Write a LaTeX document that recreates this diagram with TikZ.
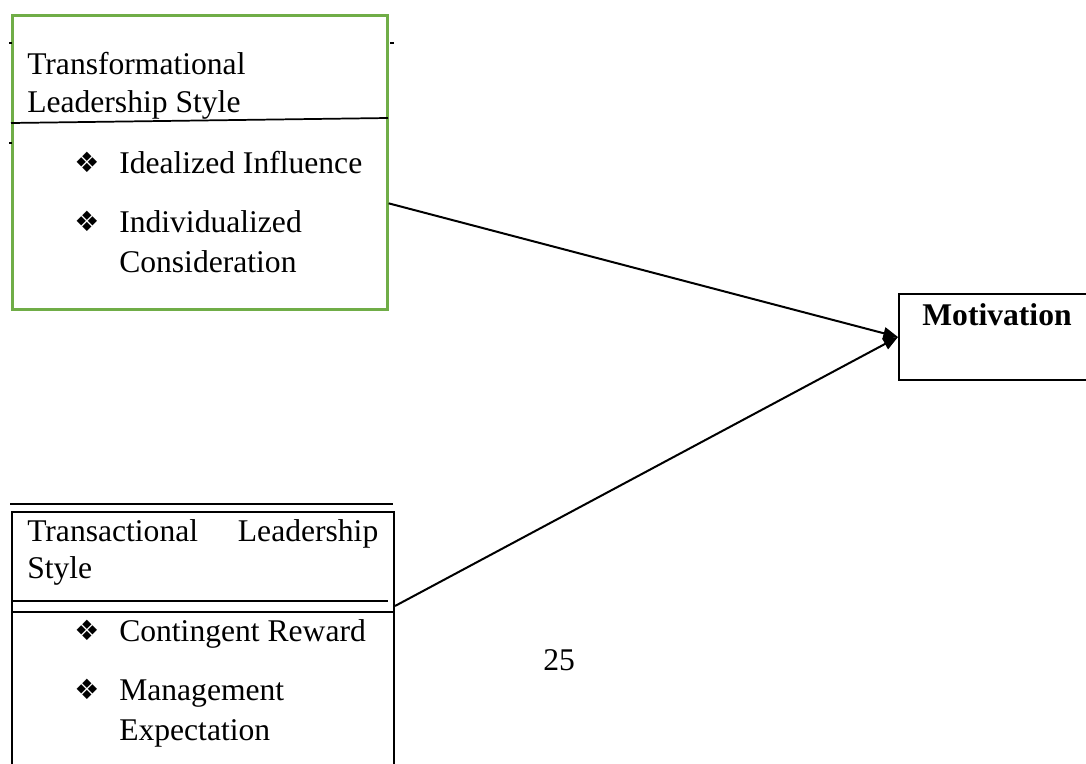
\documentclass[tikz,border=0pt]{standalone}
\usepackage{fontspec}
\setmainfont{Liberation Serif}
\newfontfamily\dingfont{DejaVu Sans}
\usetikzlibrary{arrows.meta,positioning}
\definecolor{boxgreen}{RGB}{112,173,71}
\newcommand{\dia}{{\dingfont\fontsize{21}{21}\selectfont ❖}}

\begin{document}
\begin{tikzpicture}[x=0.75pt, y=-0.75pt,
    txt/.style={font=\fontsize{23.7}{27.8}\selectfont, inner sep=0pt, anchor=base west},
    item/.style={font=\fontsize{23.7}{30}\selectfont, inner sep=0pt, anchor=base west, align=left},
    bulletmark/.style={inner sep=0pt, anchor=base west},
    boxframe/.style={draw, line width=1.5pt, inner sep=0pt, anchor=north west},
    line/.style={draw, line width=1.5pt, -{Triangle[length=11pt,width=9pt]}},
    rule/.style={line width=1.3pt}]
    \useasboundingbox (0,0) rectangle (1086,764);

    % Nodes
    \node [boxframe, draw=boxgreen, line width=2pt, minimum width=375*0.75pt, minimum height=294*0.75pt] (tfbox) at (11,14) {};
    \node [txt, align=left] (tftitle) at (27,112) {Transformational\\Leadership Style};
    \node [bulletmark] (tfb1) at (74,172) {\dia};
    \node [item] (ideal) at (119,173) {Idealized Influence};
    \node [bulletmark] (tfb2) at (74,231) {\dia};
    \node [item] (indiv) at (119,272) {Individualized\\Consideration};

    \node [boxframe, minimum width=382*0.75pt, minimum height=270*0.75pt] (tsbox) at (11,511) {};
    \node [txt, text width=351*0.75pt, align=justify] (tstitle) at (27,541) {Transactional Leadership Style};
    \node [bulletmark] (tsb1) at (74,640) {\dia};
    \node [item] (contin) at (119,641) {Contingent Reward};
    \node [bulletmark] (tsb2) at (74,699) {\dia};
    \node [item] (manage) at (119,740) {Management\\Expectation};

    \node [boxframe, minimum width=200*0.75pt, minimum height=86*0.75pt] (mot) at (898,293) {};
    \node [txt, anchor=base, font=\fontsize{23.7}{27.8}\selectfont\bfseries] (mottxt) at (997,325) {Motivation};

    \node [txt] (pgnum) at (543,670) {25};

    % Rules
    \draw [rule] (11,123) -- (388,118);
    \draw [rule] (9,43) -- (12,43);
    \draw [rule] (390,43) -- (394,43);
    \draw [rule] (9,143) -- (12,143);
    \draw [rule] (10,504) -- (393,504);
    \draw [rule] (11,601) -- (388,601);
    \draw [rule] (11,612) -- (393,612);

    % Edges
    \path [line] ([yshift=-30.75pt]tfbox.east) -- (mot.west);
    \path [line] ([yshift=30.75pt]tsbox.east) -- (mot.west);
\end{tikzpicture}
\end{document}
